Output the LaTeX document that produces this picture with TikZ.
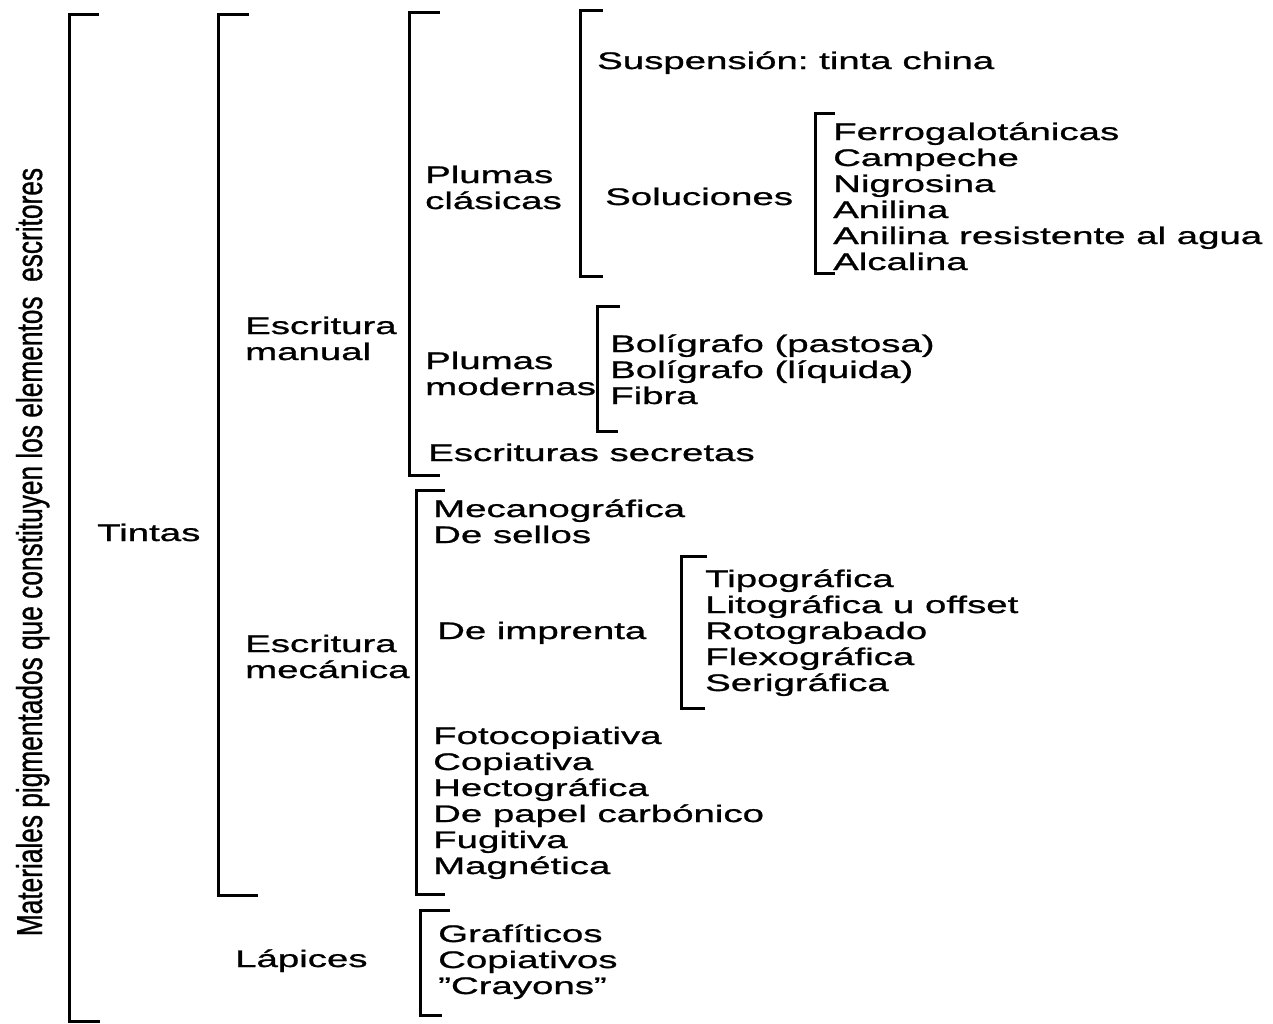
\documentclass[tikz,border=0pt]{standalone}
\usepackage{fontspec}
\setmainfont{Liberation Sans}[FakeStretch=1.6, FakeBold=1]
\newfontfamily\sidefont{Liberation Sans}[FakeStretch=0.73, FakeBold=0.8]
\usetikzlibrary{positioning}
\frenchspacing

\begin{document}
\begin{tikzpicture}[
  x=1pt, y=-1pt,
  lbl/.style={anchor=base west, inner sep=0pt, align=left, font=\fontsize{24}{26}\selectfont},
  side/.style={anchor=base, inner sep=0pt, rotate=90, font=\sidefont\fontsize{36}{40}\selectfont},
  brace/.style={line width=3pt},
]
\useasboundingbox (0,0) rectangle (1273,1023);

% side title
\node[side] (title) at (42,552) {Materiales pigmentados que constituyen los elementos\ \ escritores};

% brackets
\draw[brace] (99,14) -| (69,1021) -- ++(31,0);
\draw[brace] (249,14) -| (218,895) -- ++(40,0);
\draw[brace] (440,12) -| (409,475) -- ++(31,0);
\draw[brace] (445,490) -| (416,894) -- ++(29,0);
\draw[brace] (450,910) -| (420,1015) -- ++(22,0);
\draw[brace] (603,10) -| (580,276) -- ++(23,0);
\draw[brace] (835,113) -| (815,273) -- ++(20,0);
\draw[brace] (620,306) -| (597,431) -- ++(21,0);
\draw[brace] (707,556) -| (681,708) -- ++(24,0);

% first levels (two-line nodes sit on their last line)
\node[lbl] (tintas) at (97,541) {Tintas};
\node[lbl] (lapices) at (235,967) {Lápices};
\node[lbl] (manual) at (245,360) {Escritura\\manual};
\node[lbl] (mecanica) at (245,678) {Escritura\\mecánica};

% escritura manual
\node[lbl] (clasicas) at (425,209) {Plumas\\clásicas};
\node[lbl] (modernas) at (425,395) {Plumas\\modernas};
\node[lbl] (secretas) at (428,461) {Escrituras secretas};
\node[lbl] (suspension) at (597,69) {Suspensión: tinta china};
\node[lbl] (soluciones) at (605,205) {Soluciones};
\node[lbl] (imprenta) at (437,639) {De imprenta};

% lists
\foreach \t [count=\i] in {Ferrogalotánicas, Campeche, Nigrosina, Anilina, Anilina resistente al agua, Alcalina}
  \node[lbl] (sol\i) at (833,114+26*\i) {\t};
\foreach \t [count=\i] in {Bolígrafo (pastosa), Bolígrafo (líquida), Fibra}
  \node[lbl] (bol\i) at (610,326+26*\i) {\t};
\foreach \t [count=\i] in {Mecanográfica, De sellos}
  \node[lbl] (mec\i) at (433,491+26*\i) {\t};
\foreach \t [count=\i] in {Tipográfica, Litográfica u offset, Rotograbado, Flexográfica, Serigráfica}
  \node[lbl] (imp\i) at (705,561+26*\i) {\t};
\foreach \t [count=\i] in {Fotocopiativa, Copiativa, Hectográfica, De papel carbónico, Fugitiva, Magnética}
  \node[lbl] (cop\i) at (433,718+26*\i) {\t};
\foreach \t [count=\i] in {Grafíticos, Copiativos, ''Crayons''}
  \node[lbl] (lap\i) at (438,916+26*\i) {\t};
\end{tikzpicture}
\end{document}
